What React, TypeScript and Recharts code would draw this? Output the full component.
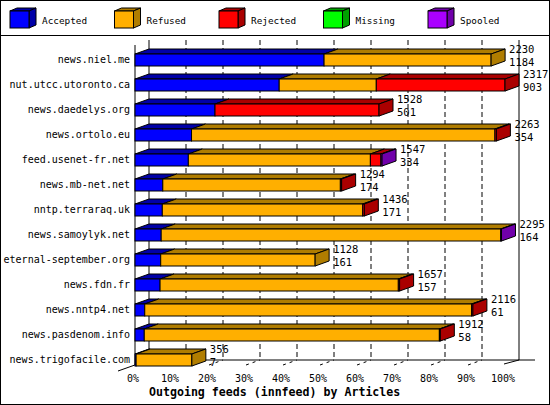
import React from "react";
import { BarChart, Bar, XAxis, YAxis, CartesianGrid } from "recharts";

// innfeed outgoing feeds, articles per peer
const hosts = [
  "news.niel.me",
  "nut.utcc.utoronto.ca",
  "news.daedelys.org",
  "news.ortolo.eu",
  "feed.usenet-fr.net",
  "news.mb-net.net",
  "nntp.terraraq.uk",
  "news.samoylyk.net",
  "eternal-september.org",
  "news.fdn.fr",
  "news.nntp4.net",
  "news.pasdenom.info",
  "news.trigofacile.com",
];
const offered = [2230, 2317, 1528, 2263, 1547, 1294, 1436, 2295, 1128, 1657, 2116, 1912, 356];
const accepted = [1184, 903, 501, 354, 334, 174, 171, 164, 161, 157, 61, 58, 7];
const refused = [1046, 608, 0, 1900, 1140, 1112, 1255, 2126, 967, 1492, 2047, 1848, 349];
const rejected = [0, 806, 1027, 9, 66, 8, 10, 0, 0, 8, 8, 6, 0];
const missing = [0, 0, 0, 0, 0, 0, 0, 0, 0, 0, 0, 0, 0];
const spooled = [0, 0, 0, 0, 7, 0, 0, 5, 0, 0, 0, 0, 0];

const tickPercents = [0, 10, 20, 30, 40, 50, 60, 70, 80, 90, 100];

const seriesKeys = ["accepted", "refused", "rejected", "missing", "spooled"];
const seriesNames = ["Accepted", "Refused", "Rejected", "Missing", "Spooled"];
const seriesColors = ["#0000ff", "#ffaf00", "#ff0000", "#00ff00", "#aa00ff"];
const seriesDark = ["#0000a8", "#b07d00", "#aa0000", "#00a000", "#7000aa"];

const maxOffered = Math.max(...offered);

const data = hosts.map((host, i) => ({
  host,
  offered: offered[i],
  accepted: accepted[i],
  refused: refused[i],
  rejected: rejected[i],
  missing: missing[i],
  spooled: spooled[i],
}));

const DX = 14;
const DY = 5;
const FONT = "'DejaVu Sans Mono', monospace";

function Bar3D(props: any) {
  const { x, y, width, height, payload, si } = props;
  if (!(width > 0)) return null;
  const isLast = seriesKeys.slice(si + 1).every((k) => !(payload[k] > 0));
  const fill = seriesColors[si];
  const dark = seriesDark[si];
  const x2 = x + width;
  return (
    <g>
      <polygon
        points={`${x},${y} ${x + DX},${y - DY} ${x2 + DX},${y - DY} ${x2},${y}`}
        fill={dark}
        stroke="#000"
        strokeWidth={1}
      />
      <rect x={x} y={y} width={width} height={height} fill={fill} stroke="#000" strokeWidth={1} />
      {isLast && (
        <>
          <polygon
            points={`${x2},${y} ${x2 + DX},${y - DY} ${x2 + DX},${y + height - DY} ${x2},${y + height}`}
            fill={dark}
            stroke="#000"
            strokeWidth={1}
          />
          <text x={x2 + DX + 4} y={y - 1.5} fontFamily={FONT} fontSize={10.5} fill="#000">
            {payload.offered}
          </text>
          <text x={x2 + DX + 4} y={y + 11.5} fontFamily={FONT} fontSize={10.5} fill="#000">
            {payload.accepted}
          </text>
        </>
      )}
    </g>
  );
}

function PercentTick(props: any) {
  const { x, y, payload } = props;
  const p = Math.round((payload.value / maxOffered) * 100);
  return (
    <text x={x - 2} y={y + 10} textAnchor="middle" fontFamily={FONT} fontSize={10} fill="#000">
      {`${p}%`}
    </text>
  );
}

function HostTick(props: any) {
  const { x, y, payload } = props;
  return (
    <text x={x} y={y} dy={3.5} textAnchor="end" fontFamily={FONT} fontSize={10} fill="#000">
      {payload.value}
    </text>
  );
}

function gridXs({ xAxis, offset }: any) {
  const ticks = tickPercents.map((p) => (p * maxOffered) / 100);
  const s = xAxis && xAxis.scale;
  return ticks.map((t) =>
    (typeof s === "function" ? s(t) : offset.left + (offset.width * t) / maxOffered) + DX
  );
}

function VLine(p: any) {
  const { x1, y1, y2, index } = p;
  const last = index === tickPercents.length - 1;
  const top = y1 - 7;
  const floor = y2 - 12;
  return (
    <g key={`v-${index}`}>
      <line
        x1={x1}
        x2={x1}
        y1={top}
        y2={floor}
        stroke="#000"
        strokeDasharray={index === 0 || last ? undefined : "5 3"}
      />
      {index === 0 ? (
        <>
          <line x1={x1 - DX} x2={x1 - DX} y1={top + DY} y2={floor + DY} stroke="#000" />
          <line x1={x1 - DX - 17} x2={x1} y1={floor + 11} y2={floor} stroke="#000" />
        </>
      ) : last ? (
        <line x1={x1 - 15} x2={x1} y1={floor + 4} y2={floor} stroke="#000" />
      ) : (
        <line x1={x1 - DX} x2={x1} y1={floor + 5} y2={floor} stroke="#000" strokeDasharray="3 4" />
      )}
    </g>
  );
}

function HLine(p: any) {
  const { x1, x2, y1, index } = p;
  return <line key={`h-${index}`} x1={x1 + DX} x2={x2 + DX + 16} y1={y1} y2={y1} stroke="#000" />;
}

function LegendBox({ x, fill, dark }: { x: number; fill: string; dark: string }) {
  const y = 11;
  const w = 19;
  const h = 17;
  return (
    <g>
      <polygon points={`${x},${y} ${x + 7},${y - 3} ${x + w + 7},${y - 3} ${x + w},${y}`} fill={dark} stroke="#000" />
      <polygon
        points={`${x + w},${y} ${x + w + 7},${y - 3} ${x + w + 7},${y + h - 3} ${x + w},${y + h}`}
        fill={dark}
        stroke="#000"
      />
      <rect x={x} y={y} width={w} height={h} fill={fill} stroke="#000" />
    </g>
  );
}

export default function App() {
  return (
    <div style={{ position: "absolute", left: 0, top: 0, width: 550, height: 405, background: "#fff" }}>
      <BarChart
        width={550}
        height={405}
        data={data}
        layout="vertical"
        margin={{ top: 47, right: 45, bottom: 13, left: 0 }}
        barCategoryGap={0}
        barSize={12}
      >
        <CartesianGrid
          horizontal={HLine}
          vertical={VLine}
          verticalCoordinatesGenerator={gridXs}
          horizontalCoordinatesGenerator={({ offset }: any) => [offset.top + offset.height - 12]}
        />
        <XAxis
          type="number"
          domain={[0, maxOffered]}
          ticks={tickPercents.map((p) => (p * maxOffered) / 100)}
          axisLine={false}
          tickLine={false}
          tickSize={0}
          tickMargin={0}
          height={20}
          tick={<PercentTick />}
          interval={0}
        />
        <YAxis
          type="category"
          dataKey="host"
          width={135}
          axisLine={false}
          tickLine={false}
          tickSize={3}
          tickMargin={2}
          tick={<HostTick />}
          interval={0}
        />
        {seriesKeys.map((k, si) => (
          <Bar
            key={k}
            dataKey={k}
            name={seriesNames[si]}
            stackId="a"
            fill={seriesColors[si]}
            isAnimationActive={false}
            shape={(p: any) => <Bar3D {...p} si={si} />}
          />
        ))}
      </BarChart>
      <svg
        width={550}
        height={405}
        style={{ position: "absolute", left: 0, top: 0, pointerEvents: "none" }}
      >
        <rect x={0.5} y={0.5} width={549} height={404} fill="none" stroke="#000" />
        <line x1={0} x2={550} y1={35.5} y2={35.5} stroke="#000" />
        {seriesNames.map((name, i) => (
          <g key={name}>
            <LegendBox x={10 + i * 104.5} fill={seriesColors[i]} dark={seriesDark[i]} />
            <text x={42 + i * 104.5} y={23.5} fontFamily={FONT} fontSize={9.4} fill="#000">
              {name}
            </text>
          </g>
        ))}
        <text x={149} y={396} fontFamily={FONT} fontSize={11.6} fontWeight="bold" fill="#000">
          Outgoing feeds (innfeed) by Articles
        </text>
      </svg>
    </div>
  );
}
